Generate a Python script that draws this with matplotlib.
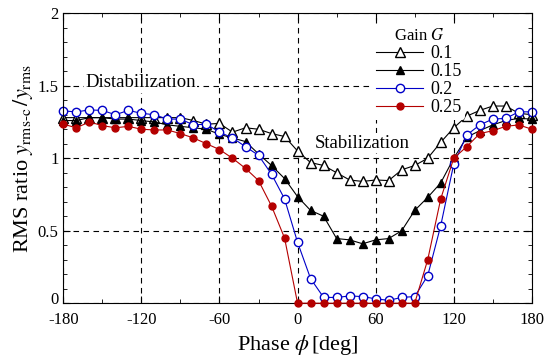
import matplotlib
matplotlib.use("Agg")
import matplotlib.pyplot as plt
from matplotlib.ticker import MultipleLocator

phase = list(range(-180, 181, 10))

g010 = [1.28, 1.28, 1.28, 1.28, 1.28, 1.28, 1.28, 1.28, 1.28, 1.28, 1.26, 1.235, 1.24, 1.18,
        1.21, 1.2, 1.17, 1.15, 1.05, 0.97, 0.95, 0.90, 0.85, 0.84, 0.85, 0.846, 0.92, 0.95,
        1.0, 1.11, 1.21, 1.29, 1.33, 1.36, 1.36, 1.31, 1.30]
g015 = [1.26, 1.26, 1.28, 1.28, 1.27, 1.27, 1.26, 1.25, 1.23, 1.22, 1.21, 1.2, 1.165, 1.14,
        1.115, 1.03, 0.95, 0.86, 0.735, 0.64, 0.6, 0.446, 0.437, 0.41, 0.437, 0.446, 0.5,
        0.64, 0.73, 0.83, 1.0, 1.145, 1.19, 1.23, 1.26, 1.275, 1.27]
g020 = [1.326, 1.32, 1.333, 1.33, 1.30, 1.33, 1.31, 1.30, 1.27, 1.27, 1.23, 1.235, 1.18, 1.14,
        1.08, 1.02, 0.89, 0.72, 0.42, 0.17, 0.04, 0.04, 0.05, 0.046, 0.03, 0.02, 0.04, 0.046,
        0.19, 0.535, 0.96, 1.16, 1.23, 1.27, 1.275, 1.32, 1.32]
g025 = [1.235, 1.21, 1.25, 1.225, 1.21, 1.22, 1.20, 1.195, 1.195, 1.17, 1.14, 1.10, 1.06, 1.0,
        0.93, 0.846, 0.67, 0.45, 0.0, 0.0, 0.0, 0.0, 0.0, 0.0, 0.0, 0.0, 0.0, 0.0,
        0.30, 0.72, 1.0, 1.08, 1.17, 1.19, 1.22, 1.23, 1.20]

gains = ["0.1", "0.15", "0.2", "0.25"]

plt.rcParams.update({
    'font.family': 'Liberation Serif',
    'mathtext.fontset': 'stix',
    'axes.unicode_minus': False,
    'font.size': 12,
})

fig = plt.figure(figsize=(5.48, 3.58), dpi=100)
ax = fig.add_axes([0.1155, 0.153, 0.855, 0.81])

ax.plot(phase, g010, marker="^", color="black", mfc="white", ms=6.5, lw=0.8,
        label=gains[0], clip_on=False)
ax.plot(phase, g015, marker="^", color="black", mfc="black", ms=5.5, lw=0.8,
        label=gains[1], clip_on=False)
ax.plot(phase, g020, marker="o", color="#0000c8", mfc="white", ms=6, lw=0.8,
        label=gains[2], clip_on=False)
ax.plot(phase, g025, marker="o", color="#b40000", mfc="#b40000", ms=5, lw=0.8,
        label=gains[3], clip_on=False, zorder=3)

ax.set_xlim(-180, 180)
ax.set_ylim(0, 2)
ax.xaxis.set_major_locator(MultipleLocator(60))
ax.xaxis.set_minor_locator(MultipleLocator(30))
ax.yaxis.set_major_locator(MultipleLocator(0.5))
ax.yaxis.set_minor_locator(MultipleLocator(0.1))
# the "0" on the y axis is drawn separately, a bit higher, so it clears "-180"
ax.yaxis.set_major_formatter(plt.FuncFormatter(lambda v, p: "" if v == 0 else "%g" % v))
ax.annotate("0", xy=(0, 0), xycoords="axes fraction", xytext=(-3.5, 2),
            textcoords="offset points", ha="right", va="center", fontsize=12)
ax.tick_params(which="both", direction="in", top=True, right=True, labelsize=12)
ax.tick_params(which="major", length=5)
ax.tick_params(which="minor", length=3)
ax.tick_params(axis="x", pad=6)
ax.grid(which="major", color="black", linestyle=(0, (5, 4)), linewidth=0.8)

ax.set_xlabel(r"Phase $\phi\,$[deg]", fontsize=16, labelpad=4)
ax.set_ylabel(r"RMS ratio $y_{\text{rms-c}}\,/y_{\text{rms}}$", fontsize=16, labelpad=2)

ax.text(-163, 1.52, "Distabilization", fontsize=13.5, va="center",
        bbox=dict(facecolor="white", edgecolor="none", pad=1))
ax.text(50, 1.105, "Stabilization", fontsize=13.5, va="center", ha="center",
        bbox=dict(facecolor="white", edgecolor="none", pad=1))

leg = ax.legend(title=r"Gain $G$", loc="upper left", bbox_to_anchor=(0.66, 0.96),
                frameon=True, fontsize=13, title_fontsize=12, handlelength=2.6,
                handletextpad=0.4, labelspacing=0.05, borderpad=0.2, borderaxespad=0)
leg.get_frame().set_facecolor("white")
leg.get_frame().set_edgecolor("none")
leg.get_frame().set_alpha(1)

fig.savefig("out.png", dpi=100)
